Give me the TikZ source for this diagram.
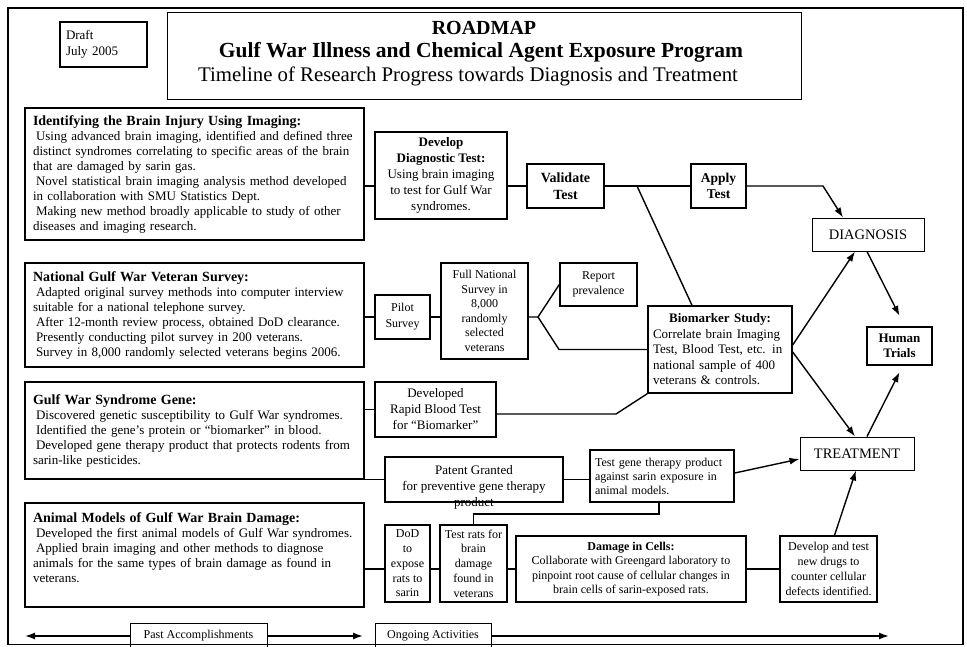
\documentclass[tikz,border=0pt]{standalone}
\usepackage{fontspec}
\setmainfont{Liberation Serif}
\usetikzlibrary{arrows.meta,calc}
\begin{document}
\begin{tikzpicture}[x=1pt,y=-1pt,
  box/.style={draw, line width=1.4pt, fill=white, inner sep=0pt, align=center},
  thinbox/.style={box, line width=1pt},
  link/.style={line width=1.4pt},
  tip/.tip={Latex[length=10pt,width=7pt]},
  arr/.style={line width=1.4pt, -tip},
  leftbox/.style={box, minimum width=339, minimum height=#1, text width=323, align=left, font=\fontsize{13}{15}\selectfont},
]
\useasboundingbox (0,0) rectangle (967,646);
\fill[white] (0,0) rectangle (967,646);

% header
\node[box, line width=1.2pt, minimum width=87, minimum height=45, text width=75, align=left, font=\fontsize{13}{16}\selectfont] (draft) at (103.5,44.5) {Draft\\July 2005};
\node[draw, line width=0.8pt, minimum width=634, minimum height=87, inner sep=0pt] (title) at (484,55.5) {};
\node[inner sep=0pt, font=\bfseries\fontsize{20}{24}\selectfont] (t1) at (484,28) {ROADMAP};
\node[inner sep=0pt, font=\bfseries\fontsize{21.5}{25}\selectfont] (t2) at (481,52) {Gulf War Illness and Chemical Agent Exposure Program};
\node[inner sep=0pt, font=\fontsize{20.8}{25}\selectfont] (t3) at (468,76) {Timeline of Research Progress towards Diagnosis and Treatment};

% left column
\node[leftbox=132] (img) at (194.5,174) {{\bfseries\fontsize{14}{15}\selectfont Identifying the Brain Injury Using Imaging:}\\
\hspace*{3pt}Using advanced brain imaging, identified and defined three\\
distinct syndromes correlating to specific areas of the brain\\
that are damaged by sarin gas.\\
\hspace*{3pt}Novel statistical brain imaging analysis method developed\\
in collaboration with SMU Statistics Dept.\\
\hspace*{3pt}Making new method broadly applicable to study of other\\
diseases and imaging research.};

\node[leftbox=104] (survey) at (194.5,315) {{\bfseries\fontsize{14}{15}\selectfont National Gulf War Veteran Survey:}\\
\hspace*{3pt}Adapted original survey methods into computer interview\\
suitable for a national telephone survey.\\
\hspace*{3pt}After 12-month review process, obtained DoD clearance.\\
\hspace*{3pt}Presently conducting pilot survey in 200 veterans.\\
\hspace*{3pt}Survey in 8,000 randomly selected veterans begins 2006.};

\node[leftbox=97] (gene3) at (194.5,430.5) {{\bfseries\fontsize{14}{15}\selectfont Gulf War Syndrome Gene:}\\
\hspace*{3pt}Discovered genetic susceptibility to Gulf War syndromes.\\
\hspace*{3pt}Identified the gene’s protein or “biomarker” in blood.\\
\hspace*{3pt}Developed gene therapy product that protects rodents from\\
sarin-like pesticides.};

\node[leftbox=104] (animal) at (194.5,555) {{\bfseries\fontsize{14}{15}\selectfont Animal Models of Gulf War Brain Damage:}\\
\hspace*{3pt}Developed the first animal models of Gulf War syndromes.\\
\hspace*{3pt}Applied brain imaging and other methods to diagnose\\
animals for the same types of brain damage as found in\\
veterans.\\ \mbox{}};

% middle / right nodes
\node[box, minimum width=132, minimum height=87, font=\fontsize{13}{16}\selectfont] (dev) at (441,175.5) {\textbf{Develop}\\\textbf{Diagnostic Test:}\\Using brain imaging\\to test for Gulf War\\syndromes.};
\node[box, minimum width=77, minimum height=44, font=\bfseries\fontsize{14}{17}\selectfont] (val) at (565.5,186) {Validate\\Test};
\node[box, minimum width=55, minimum height=44, font=\bfseries\fontsize{13.5}{15.5}\selectfont] (apply) at (718.5,186) {Apply\\Test};
\node[thinbox, minimum width=112, minimum height=33, font=\fontsize{14.5}{16}\selectfont] (diag) at (868,234.5) {DIAGNOSIS};
\node[box, line width=2.4pt, minimum width=65, minimum height=38, font=\bfseries\fontsize{13}{15}\selectfont] (human) at (899.5,346) {Human\\Trials};
\node[box, minimum width=144, minimum height=87, text width=134, align=left, font=\fontsize{13}{15.5}\selectfont] (bio) at (720,349.5) {\makebox[134pt]{\textbf{Biomarker Study:}}\\Correlate brain Imaging\\Test, Blood Test, etc. in\\national sample of 400\\veterans \& controls.};
\node[thinbox, minimum width=114, minimum height=33, font=\fontsize{14.5}{16}\selectfont] (treat) at (857,453.5) {TREATMENT};
\node[box, minimum width=55, minimum height=44, font=\fontsize{12}{16}\selectfont] (pilot) at (402.5,317) {Pilot\\Survey};
\node[box, minimum width=87, minimum height=96, font=\fontsize{12}{14.5}\selectfont] (full) at (484.5,311) {Full National\\Survey in\\8,000\\randomly\\selected\\veterans};
\node[box, minimum width=77, minimum height=43, font=\fontsize{12}{15}\selectfont] (report) at (598.5,284.5) {Report\\prevalence};
\node[box, minimum width=121, minimum height=55, font=\fontsize{13}{16}\selectfont] (rapid) at (435.5,409.5) {Developed\\Rapid Blood Test\\for “Biomarker”};
\node[box, minimum width=178, minimum height=45] (patent) at (474,479.5) {};
\node[align=center, inner sep=0pt, font=\fontsize{13}{16}\selectfont] (patenttext) at (474,487) {Patent Granted\\for preventive gene therapy\\product};
\node[box, minimum width=144, minimum height=52, text width=134, align=left, font=\fontsize{12}{14}\selectfont] (gene) at (662,476) {Test gene therapy product\\against sarin exposure in\\animal models.};
\node[box, minimum width=45, minimum height=77, font=\fontsize{12}{14.7}\selectfont] (dod) at (407.5,563.5) {DoD\\to\\expose\\rats to\\sarin};
\node[box, minimum width=67, minimum height=77, font=\fontsize{12}{14.7}\selectfont] (rats) at (473.5,563.5) {Test rats for\\brain\\damage\\found in\\veterans};
\node[box, minimum width=230, minimum height=66, font=\fontsize{12}{14.5}\selectfont] (damage) at (631,569) {\textbf{Damage in Cells:}\\Collaborate with Greengard laboratory to\\pinpoint root cause of cellular changes in\\brain cells of sarin-exposed rats.};
\node[box, minimum width=97, minimum height=66, font=\fontsize{12}{15}\selectfont] (drugs) at (828.5,569) {Develop and test\\new drugs to\\counter cellular\\defects identified.};

% coordinates for bends
\coordinate (c1) at (823,186);
\coordinate (vb) at (637,186);
\coordinate (br) at (538,317);
\coordinate (bl) at (559,349.5);
\coordinate (rb) at (616,414);
\coordinate (tg) at (659,514);

% connectors
\draw[link] (img.east |- val.west) -- (dev.west |- val.west);
\draw[link] (dev.east |- val.west) -- (val.west);
\draw[link] (val.east) -- (apply.west);
\draw[arr] (apply.east) -- (c1) -- ([xshift=-25pt]diag.north);
\draw[link] (vb) -- ([xshift=-28pt]bio.north);
\draw[arr] ([yshift=4.5pt]bio.east) -- ([xshift=-13pt]diag.south);
\draw[arr] ([yshift=-2.5pt]bio.east) -- ([xshift=-2pt]treat.north);
\draw[arr] ([xshift=-1pt]diag.south) -- ([yshift=10pt]human.north);
\draw[arr] ([xshift=10pt]treat.north) -- ([yshift=-6pt]human.south);
\draw[link] (survey.east |- pilot.west) -- (pilot.west);
\draw[link] (pilot.east) -- (full.west |- pilot.east);
\draw[link] (full.east |- br) -- (br) -- (report.west);
\draw[link] (br) -- (bl) -- (bio.west |- bl);
\draw[link] (gene3.east |- rapid.west) -- (rapid.west);
\draw[link] (rapid.east |- rb) -- (rb) -- (bio.south west);
\draw[link] (gene3.south east) -- (patent.west |- gene3.south);
\draw[link] (patent.east) -- (gene.west |- patent.east);
\draw[arr] ([yshift=3pt]gene.east) -- ([yshift=-5.5pt]treat.west);
\draw[link] ([xshift=-3pt]gene.south) -- (tg) -- (tg -| rats.north) -- (rats.north);
\draw[link] (animal.east |- damage.west) -- (dod.west |- damage.west);
\draw[link] (dod.east |- damage.west) -- (rats.west |- damage.west);
\draw[link] (rats.east |- damage.west) -- (damage.west);
\draw[link] (damage.east) -- (drugs.west);
\draw[arr] ([xshift=6pt]drugs.north) -- ([xshift=-1pt]treat.south);

% timeline
\coordinate (tl) at (25,636);
\coordinate (tm) at (363,636);
\coordinate (tr) at (889,636);
\draw[line width=1.6pt, tip-tip] (tl) -- (tm);
\node[draw, line width=0.8pt, fill=white, minimum width=137, minimum height=26, inner sep=0pt, font=\fontsize{12}{14}\selectfont] (past) at (198.5,636) {Past Accomplishments};
\node[draw, line width=0.8pt, fill=white, minimum width=116, minimum height=26, inner sep=0pt, font=\fontsize{12}{14}\selectfont] (ongoing) at (433,636) {Ongoing Activities};
\draw[arr, line width=1.6pt] (ongoing.east) -- (tr);

% outer frame
\draw[line width=2.8pt] (8,645) -- (8,8) -- (963,8) -- (963,645);
\draw[line width=1pt] (8,644) -- (963,644);
\end{tikzpicture}
\end{document}
